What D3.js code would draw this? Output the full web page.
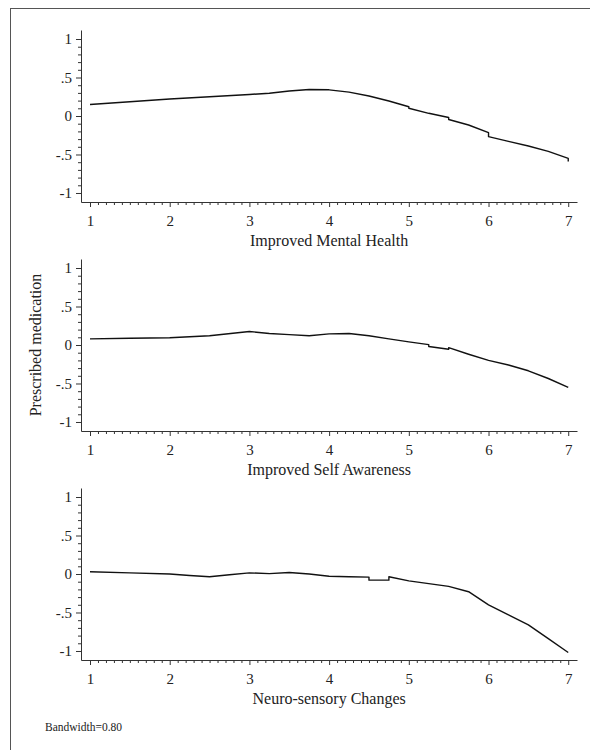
<!DOCTYPE html>
<html>
<head>
<meta charset="utf-8">
<script src="https://cdn.jsdelivr.net/npm/d3@7"></script>
<style>
html,body{margin:0;padding:0;background:#fff;}
svg{display:block;}
text{font-family:"Liberation Serif","Times New Roman",Times,"DejaVu Serif",serif;}
</style>
</head>
<body>
<svg id="chart" width="590" height="750"></svg>
<script>
// ---- data ----
const panelTitles = ["Improved Mental Health", "Improved Self Awareness", "Neuro-sensory Changes"];
const yAxisTitle = "Prescribed medication";
const noteText = "Bandwidth=0.80";
const xTickValues = [1, 2, 3, 4, 5, 6, 7];
const yTickValues = [-1, -0.5, 0, 0.5, 1];
const yTickLabels = ["-1", "-.5", "0", ".5", "1"];

const mentalX = [1, 1.5, 2, 2.5, 3, 3.25, 3.5, 3.75, 4, 4.25, 4.5, 4.75, 5, 5, 5.25, 5.5, 5.5, 5.75, 6, 6, 6.25, 6.5, 6.75, 7, 7];
const mentalY = [0.15, 0.185, 0.22, 0.25, 0.28, 0.295, 0.325, 0.345, 0.34, 0.31, 0.26, 0.195, 0.12, 0.10, 0.035, -0.02, -0.045, -0.117, -0.217, -0.268, -0.33, -0.39, -0.46, -0.55, -0.59];

const selfX = [1, 1.5, 2, 2.5, 3, 3.25, 3.5, 3.75, 4, 4.25, 4.5, 4.75, 5, 5.25, 5.25, 5.5, 5.5, 5.75, 6, 6.25, 6.5, 6.75, 7];
const selfY = [0.08, 0.088, 0.095, 0.12, 0.175, 0.15, 0.135, 0.12, 0.145, 0.15, 0.12, 0.08, 0.04, 0.005, -0.02, -0.055, -0.035, -0.12, -0.2, -0.26, -0.335, -0.435, -0.55];

const neuroX = [1, 1.5, 2, 2.25, 2.5, 2.75, 3, 3.25, 3.5, 3.75, 4, 4.25, 4.5, 4.5, 4.75, 4.75, 5, 5.25, 5.5, 5.75, 6, 6.25, 6.5, 6.75, 7];
const neuroY = [0.03, 0.015, 0.0, -0.02, -0.035, -0.01, 0.015, 0.005, 0.02, 0.0, -0.03, -0.035, -0.04, -0.08, -0.08, -0.035, -0.09, -0.125, -0.16, -0.23, -0.40, -0.53, -0.66, -0.84, -1.02];

const seriesX = [mentalX, selfX, neuroX];
const seriesY = [mentalY, selfY, neuroY];

// ---- layout ----
const svg = d3.select("#chart");
const panelTop = [39, 268, 497];   // pixel of y = 1 in each panel

svg.append("rect")
  .attr("x", 10.5).attr("y", 8.5)
  .attr("width", 620).attr("height", 800)
  .attr("fill", "none").attr("stroke", "#555").attr("stroke-width", 1);

const x = d3.scaleLinear().domain([0.887, 7.11]).range([81, 577]);

function styleText(s, size) {
  s.selectAll("text")
    .attr("font-family", null)
    .attr("font-size", size).attr("fill", "#222");
}

panelTitles.forEach((title, i) => {
  const T = panelTop[i];
  const y = d3.scaleLinear().domain([-1.117, 1.117]).range([T + 163, T - 9]);
  const g = svg.append("g");

  // x axis minor ticks
  const xMinor = d3.range(10, 71).map(v => v / 10).filter(v => !xTickValues.includes(v));
  g.append("g").attr("transform", `translate(0,${T + 163})`)
    .call(d3.axisBottom(x).tickValues(xMinor).tickSize(3).tickFormat("").tickSizeOuter(0))
    .call(s => s.select(".domain").remove())
    .call(s => s.selectAll("line").attr("stroke", "#333"));
  // x axis major
  g.append("g").attr("transform", `translate(0,${T + 163})`)
    .call(d3.axisBottom(x).tickValues(xTickValues).tickSize(5).tickSizeOuter(0).tickPadding(8).tickFormat(d3.format("d")))
    .call(s => s.select(".domain").attr("stroke", "#333"))
    .call(s => s.selectAll("line").attr("stroke", "#333"))
    .call(s => styleText(s, 15))
    .attr("font-family", null);

  // y axis minor ticks
  const yMinor = d3.range(-10, 11).map(v => v / 10).filter(v => !yTickValues.some(t => Math.abs(t - v) < 1e-9));
  g.append("g").attr("transform", `translate(81,0)`)
    .call(d3.axisLeft(y).tickValues(yMinor).tickSize(3).tickFormat("").tickSizeOuter(0))
    .call(s => s.select(".domain").remove())
    .call(s => s.selectAll("line").attr("stroke", "#333"));
  // y axis major
  g.append("g").attr("transform", `translate(81,0)`)
    .call(d3.axisLeft(y).tickValues(yTickValues).tickSize(5).tickSizeOuter(0).tickPadding(4)
      .tickFormat(d => yTickLabels[yTickValues.indexOf(d)]))
    .call(s => s.select(".domain").attr("stroke", "#333"))
    .call(s => s.selectAll("line").attr("stroke", "#333"))
    .call(s => styleText(s, 15))
    .attr("font-family", null);

  // axis title
  g.append("text")
    .attr("x", x(4)).attr("y", T + 163 + 44)
    .attr("text-anchor", "middle")
    .attr("font-size", 16).attr("fill", "#222")
    .text(title);

  // curve
  const pts = seriesX[i].map((xv, k) => [xv, seriesY[i][k]]);
  g.append("path")
    .datum(pts)
    .attr("fill", "none").attr("stroke", "#111").attr("stroke-width", 1.4)
    .attr("stroke-linejoin", "round")
    .attr("d", d3.line().x(d => x(d[0])).y(d => y(d[1])));
});

// y axis title
svg.append("text")
  .attr("transform", "translate(41,345) rotate(-90)")
  .attr("text-anchor", "middle")
  .attr("font-size", 16).attr("fill", "#222")
  .text(yAxisTitle);

// bandwidth note
svg.append("text")
  .attr("x", 45).attr("y", 731)
  .attr("font-size", 11.5).attr("fill", "#222")
  .text(noteText);
</script>
</body>
</html>
